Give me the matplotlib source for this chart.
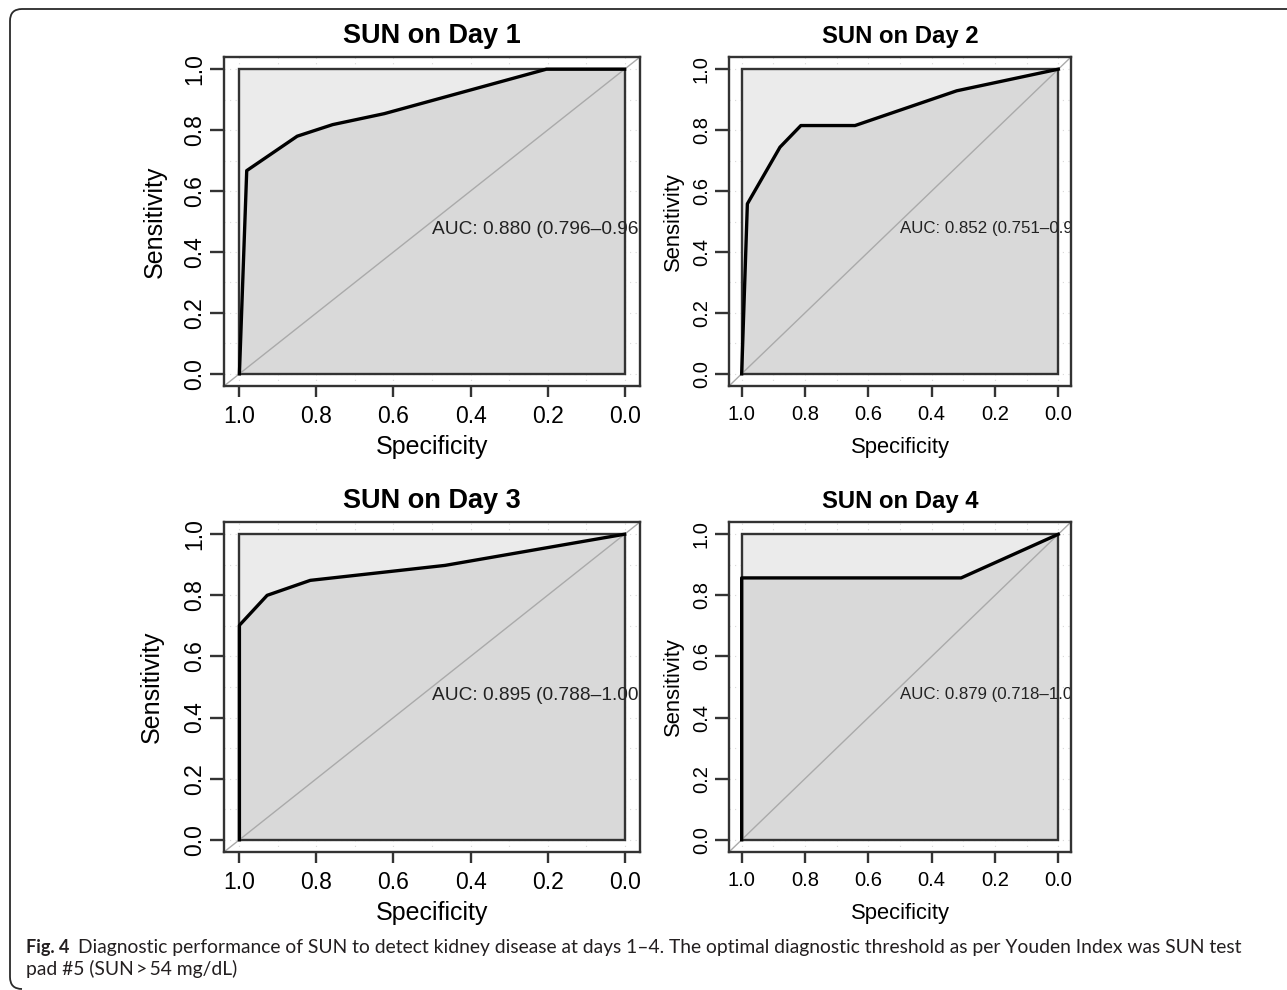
import matplotlib
matplotlib.use("Agg")
import matplotlib.pyplot as plt
from matplotlib.patches import Rectangle, PathPatch
from matplotlib.path import Path
from matplotlib.transforms import IdentityTransform
from matplotlib import font_manager

# ROC curves (specificity, sensitivity)
titles = ["SUN on Day 1", "SUN on Day 2", "SUN on Day 3", "SUN on Day 4"]
spec_d1 = [1.0, 0.981, 0.85, 0.758, 0.624, 0.203, 0.0]
sens_d1 = [0.0, 0.667, 0.78, 0.818, 0.854, 1.0, 1.0]
spec_d2 = [1.0, 0.982, 0.879, 0.813, 0.642, 0.321, 0.0]
sens_d2 = [0.0, 0.558, 0.744, 0.815, 0.815, 0.929, 1.0]
spec_d3 = [1.0, 1.0, 0.928, 0.816, 0.466, 0.0]
sens_d3 = [0.0, 0.702, 0.80, 0.849, 0.898, 1.0]
spec_d4 = [1.0, 1.0, 0.307, 0.0]
sens_d4 = [0.0, 0.857, 0.857, 1.0]
auc_labels = ["AUC: 0.880 (0.796\u20130.964)", "AUC: 0.852 (0.751\u20130.953)",
              "AUC: 0.895 (0.788\u20131.000)", "AUC: 0.879 (0.718\u20131.000)"]
ticks = [0.0, 0.2, 0.4, 0.6, 0.8, 1.0]
tick_labels = ["0.0", "0.2", "0.4", "0.6", "0.8", "1.0"]

caption_bold = "Fig. 4"
caption_1 = ("Diagnostic performance of SUN to detect kidney disease at days 1\u20134. "
             "The optimal diagnostic threshold as per Youden Index was SUN test")
caption_2 = "pad #5 (SUN\u2009>\u200954 mg/dL)"

W, H = 1287, 990
plt.rcParams["font.family"] = ["Liberation Sans", "DejaVu Sans"]

fig = plt.figure(figsize=(W / 100, H / 100), dpi=100)

# panel boxes in pixels: left, top, right, bottom, ylabel x, font scale
panels = [
    (224, 57, 640, 386, 155, 1.0),
    (729, 57, 1071, 386, 673, 0.88),
    (224, 522, 640, 852, 152, 1.0),
    (729, 522, 1071, 852, 673, 0.88),
]
curves = [(spec_d1, sens_d1), (spec_d2, sens_d2), (spec_d3, sens_d3), (spec_d4, sens_d4)]

dark = "#333333"
for i, (l, t, r, b, ylab_x, fs) in enumerate(panels):
    ax = fig.add_axes([l / W, 1 - b / H, (r - l) / W, (b - t) / H])
    ax.set_xlim(1.04, -0.04)
    ax.set_ylim(-0.04, 1.04)
    spec, sens = curves[i]

    # light dotted grid at 0.1
    for g in [k / 10 for k in range(11)]:
        ax.axvline(g, color="#d8d8d8", lw=0.8, ls=(0, (1, 4)), zorder=0.5)
        ax.axhline(g, color="#d8d8d8", lw=0.8, ls=(0, (1, 4)), zorder=0.5)

    ax.add_patch(Rectangle((0, 0), 1, 1, facecolor="#ebebeb", edgecolor="none", zorder=1))
    ax.fill_between(spec, sens, 0, color="#d9d9d9", lw=0, zorder=2)
    ax.add_patch(Rectangle((0, 0), 1, 1, facecolor="none", edgecolor=dark, lw=1.7, zorder=3))
    ax.axline((1, 0), (0, 1), color="#aaaaaa", lw=1.0, zorder=3.5)
    ax.plot(spec, sens, color="black", lw=2.4, zorder=4, solid_joinstyle="round")

    ax.text(0.5, 0.5, auc_labels[i], ha="left", va="top", fontsize=13.8 * fs,
            color="#222222", clip_on=True, zorder=5)

    for s in ax.spines.values():
        s.set_color(dark)
        s.set_linewidth(1.7)
        s.set_zorder(6)

    ax.set_xticks(ticks)
    ax.set_xticklabels(tick_labels)
    ax.set_yticks(ticks)
    ax.set_yticklabels(tick_labels, rotation=90, va="center")
    ax.tick_params(axis="x", length=8, width=1.7, color=dark, labelsize=16.5 * fs, pad=6)
    ax.tick_params(axis="y", length=10, width=1.7, color=dark, labelsize=16.5 * fs, pad=3)

    ax.set_title(titles[i], fontsize=19.5 * fs, fontweight="bold", pad=10)
    ax.set_xlabel("Specificity", fontsize=18 * fs)
    ax.set_ylabel("Sensitivity", fontsize=18 * fs)
    ax.xaxis.set_label_coords(0.5, -61 / (b - t))
    ax.xaxis.label.set_va("center")
    ax.yaxis.set_label_coords(-(l - ylab_x) / (r - l), 0.5)
    ax.yaxis.label.set_va("center")

# rounded border of the figure panel (open on the right and bottom)
top, left, rad = H - 9, 10, 12
border = Path(
    [(W + 5, top), (left + rad, top), (left, top), (left, top - rad),
     (left, 1 + rad), (left, 1), (left + rad, 1)],
    [Path.MOVETO, Path.LINETO, Path.CURVE3, Path.CURVE3,
     Path.LINETO, Path.CURVE3, Path.CURVE3])
fig.add_artist(PathPatch(border, transform=IdentityTransform(), facecolor="none",
                         edgecolor="#2a2a2a", lw=1.3))

# caption
names = {f.name for f in font_manager.fontManager.ttflist}
cap_font = "Liberation Sans Narrow" if "Liberation Sans Narrow" in names else "Lato"
renderer = fig.canvas.get_renderer()
t0 = fig.text(26 / W, 1 - 953 / H, caption_bold, fontsize=13, fontweight="bold",
              family=[cap_font, "DejaVu Sans"], color="#231f20", va="baseline")
bb = t0.get_window_extent(renderer)
t1 = fig.text((bb.x1 + 9) / W, 1 - 953 / H, caption_1, fontsize=12.5,
              family=[cap_font, "DejaVu Sans"], color="#231f20", va="baseline")
bb1 = t1.get_window_extent(renderer)
scale = (1249 - bb.x1 - 9) / bb1.width
t1.set_fontsize(12.5 * scale)
fig.text(26 / W, 1 - 975 / H, caption_2, fontsize=12.5 * scale,
         family=[cap_font, "DejaVu Sans"], color="#231f20", va="baseline")

fig.savefig("out.png", dpi=100)
